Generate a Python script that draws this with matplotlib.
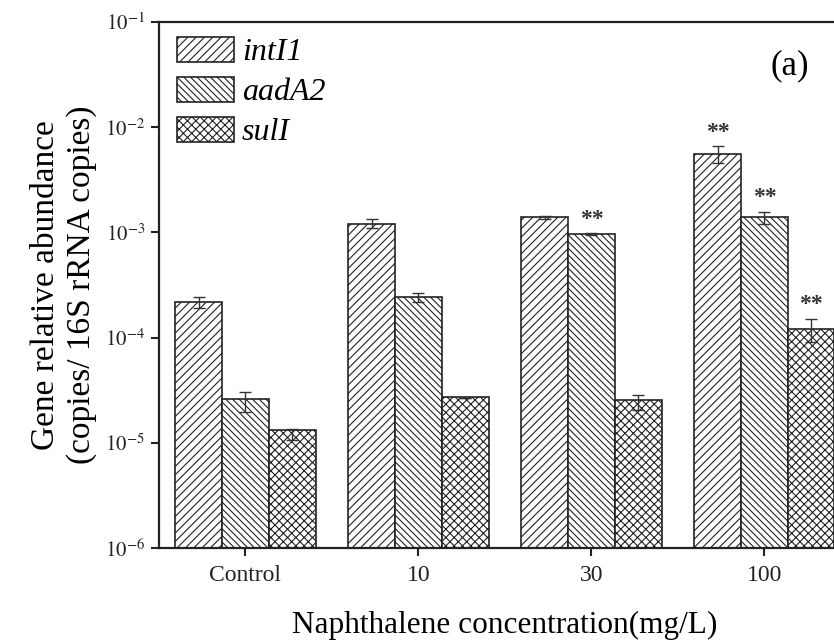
import matplotlib
matplotlib.use("Agg")
import matplotlib.pyplot as plt
import numpy as np
from matplotlib.patches import Patch

plt.rcParams['font.family'] = ['Liberation Serif', 'DejaVu Serif']
plt.rcParams['hatch.linewidth'] = 0.8
plt.rcParams['mathtext.fontset'] = 'stix'

categories = ["Control", "10", "30", "100"]
genes = ["intI1", "aadA2", "sulI"]
intI1 = [2.16e-4, 1.21e-3, 1.39e-3, 5.56e-3]
aadA2 = [2.5e-5, 2.42e-4, 9.6e-4, 1.39e-3]
sulI = [1.21e-5, 2.65e-5, 2.46e-5, 1.21e-4]
intI1_err = [2.5e-5, 1.2e-4, 5e-5, 1.0e-3]
aadA2_err = [5.5e-6, 2.5e-5, 2e-5, 1.8e-4]
sulI_err = [1.5e-6, 0.0, 4e-6, 3e-5]
intI1_sig = ["", "", "", "**"]
aadA2_sig = ["", "", "**", "**"]
sulI_sig = ["", "", "", "**"]

series = [intI1, aadA2, sulI]
errs = [intI1_err, aadA2_err, sulI_err]
sigs = [intI1_sig, aadA2_sig, sulI_sig]
hatches = ['////', '\\\\\\\\\\', 'xxxx']

fig = plt.figure(figsize=(8.34, 6.4), dpi=100)
ax = fig.add_axes([0.1906, 0.14375, 0.8297, 0.8219])

x = np.arange(len(categories))
w = 0.27
for i, (vals, er, sg, h, g) in enumerate(zip(series, errs, sigs, hatches, genes)):
    pos = x + (i - 1) * w
    ax.bar(pos, vals, width=w, bottom=1e-6, color='white', edgecolor='#222222',
           hatch=h, linewidth=1.2, label=g)
    ax.errorbar(pos, vals, yerr=er, fmt='none', ecolor='#333333', elinewidth=1.0,
                capsize=4, capthick=1.0)
    for p, v, e, s in zip(pos, vals, er, sg):
        if s:
            ax.text(p, (v + e) * 1.08, s, ha='center', va='bottom', fontsize=17,
                    fontweight='bold', color='#333333')

ax.set_yscale('log')
ax.set_ylim(1e-6, 1e-1)
ax.set_xlim(-0.5, 3.5)
ax.set_xticks(x)
ax.set_xticklabels(categories, fontsize=17)
ax.set_yticks([1e-6, 1e-5, 1e-4, 1e-3, 1e-2, 1e-1])
ax.set_yticklabels([r'$10^{-6}$', r'$10^{-5}$', r'$10^{-4}$', r'$10^{-3}$', r'$10^{-2}$', r'$10^{-1}$'], fontsize=15)
ax.yaxis.set_minor_locator(matplotlib.ticker.NullLocator())
ax.tick_params(axis='both', direction='out', length=6, width=1.5, colors='#222222')
ax.tick_params(axis='x', pad=6)
ax.tick_params(axis='y', pad=4)
for s in ['left', 'bottom', 'top']:
    ax.spines[s].set_linewidth(1.6)
    ax.spines[s].set_color('#222222')
ax.spines['right'].set_visible(False)

ax.set_ylabel("Gene relative abundance\n(copies/ 16S rRNA copies)", fontsize=24, labelpad=6,
              linespacing=1.2)
ax.set_xlabel("Naphthalene concentration(mg/L)", fontsize=22.5, labelpad=18)

handles = [Patch(facecolor='white', edgecolor='#222222', hatch=h, linewidth=1.2) for h in hatches]
leg = ax.legend(handles, genes, loc='upper left', bbox_to_anchor=(177 / 834, (640 - 37) / 640),
                bbox_transform=fig.transFigure, frameon=False,
                prop={'style': 'italic', 'size': 23}, handlelength=1.78, handleheight=0.81,
                labelspacing=0.3, handletextpad=0.25, borderaxespad=0.0, borderpad=0.0)
ax.text(790 / 834, (640 - 66) / 640, "(a)", transform=fig.transFigure, fontsize=25,
        ha='center', va='center')

fig.savefig("out.png", dpi=100)
